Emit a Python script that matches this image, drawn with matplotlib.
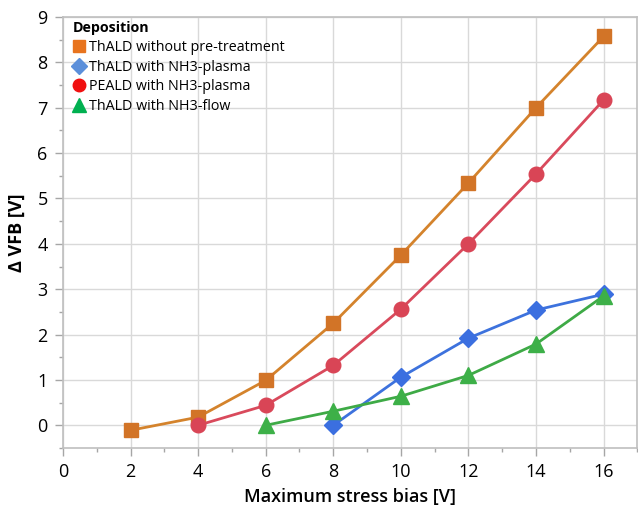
import matplotlib.pyplot as plt
from matplotlib.lines import Line2D
from matplotlib.ticker import MultipleLocator

plt.rcParams['font.family'] = ['Open Sans', 'DejaVu Sans']

# data
x_orange = [2, 4, 6, 8, 10, 12, 14, 16]
y_orange = [-0.11, 0.18, 0.99, 2.25, 3.75, 5.34, 7.0, 8.57]
x_red = [4, 6, 8, 10, 12, 14, 16]
y_red = [0.0, 0.44, 1.32, 2.56, 4.0, 5.54, 7.17]
x_blue = [8, 10, 12, 14, 16]
y_blue = [0.0, 1.06, 1.92, 2.54, 2.89]
x_green = [6, 8, 10, 12, 14, 16]
y_green = [0.0, 0.31, 0.64, 1.10, 1.79, 2.85]

labels = ['ThALD without pre-treatment', 'ThALD with NH3-plasma',
          'PEALD with NH3-plasma', 'ThALD with NH3-flow']

fig = plt.figure(figsize=(6.38, 5.07), dpi=100)
ax = fig.add_axes([0.0987, 0.1164, 0.9003, 0.8501])

ax.plot(x_orange, y_orange, color='#D4832C', lw=2, marker='s', ms=10, mfc='#D27427', mec='#D27427', zorder=3)
ax.plot(x_red, y_red, color='#D94A5C', lw=2, marker='o', ms=10.5, mfc='#D94556', mec='#D94556', zorder=3)
ax.plot(x_blue, y_blue, color='#3D72DD', lw=2, marker='D', ms=9, mfc='#3B6FE0', mec='#3B6FE0', zorder=3)
ax.plot(x_green, y_green, color='#3EAA46', lw=2, marker='^', ms=11, mfc='#3DB048', mec='#3DB048', zorder=3)

ax.set_xlim(0, 17)
ax.set_ylim(-0.5, 9)
ax.xaxis.set_major_locator(MultipleLocator(2))
ax.xaxis.set_minor_locator(MultipleLocator(1))
ax.yaxis.set_major_locator(MultipleLocator(1))
ax.yaxis.set_minor_locator(MultipleLocator(0.5))
ax.grid(True, which='major', color='#D9D9D9', lw=1)
ax.set_axisbelow(True)
for s in ax.spines.values():
    s.set_color('#BFBFBF')
    s.set_linewidth(1.2)
ax.tick_params(which='both', colors='#A6A6A6', labelcolor='black', labelsize=13)
ax.tick_params(which='major', length=6, width=1, pad=5)
ax.tick_params(which='minor', length=3, width=1)

ax.set_xlabel('Maximum stress bias [V]', fontsize=13, fontweight='semibold', labelpad=5)
ax.set_ylabel('Δ VFB [V]', fontsize=13, fontweight='bold', labelpad=8)

handles = [
    Line2D([], [], ls='none', marker='s', ms=9, color='#E8741E'),
    Line2D([], [], ls='none', marker='D', ms=8, color='#5B8FDA'),
    Line2D([], [], ls='none', marker='o', ms=9, color='#F01010'),
    Line2D([], [], ls='none', marker='^', ms=10, color='#00B050'),
]
leg = ax.legend(handles, labels, title='Deposition', loc='upper left', frameon=False,
                fontsize=10.3, title_fontproperties={'weight': 'bold', 'size': 10.3},
                handlelength=0.9, handletextpad=0.3, labelspacing=0.33,
                borderaxespad=0.25, bbox_to_anchor=(0.0, 1.012))
leg._legend_box.align = 'left'

fig.savefig('out.png', dpi=100)
